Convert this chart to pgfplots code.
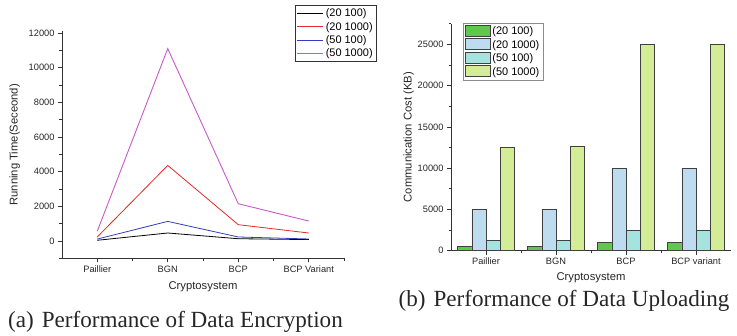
\documentclass[border=0pt]{standalone}
\usepackage{pgfplots}
\pgfplotsset{compat=1.18}
\usepackage{fontspec}
\setmainfont{Liberation Sans}
\newfontfamily\capfont{Liberation Serif}
\definecolor{cA}{RGB}{93,200,75}
\definecolor{cB}{RGB}{190,220,240}
\definecolor{cC}{RGB}{165,228,222}
\definecolor{cD}{RGB}{210,237,150}
\definecolor{lR}{RGB}{230,40,40}
\definecolor{lB}{RGB}{50,60,190}
\definecolor{lM}{RGB}{200,90,200}
\begin{document}
\begin{tikzpicture}
\path[use as bounding box] (0,0) rectangle (737bp,336bp);
\pgfplotsset{
  every axis/.append style={
    scale only axis,
    axis x line=bottom, axis y line=left,
    axis line style={-, line width=0.7bp, black!80},
    tick align=outside,
    major tick length=4bp, minor tick length=2.5bp,
    every tick/.style={black!80, line width=0.6bp},
    tick label style={font=\fontsize{9.3}{10}\selectfont, text=black!85},
    label style={font=\fontsize{11.3}{13}\selectfont, text=black!85},
    /pgf/number format/assume math mode=true,
    /pgf/number format/1000 sep={},
    scaled y ticks=false,
  }
}
% (a)
\begin{axis}[
  at={(62bp,77.7bp)}, anchor=south west,
  width=282bp, height=227bp,
  xmin=-0.5, xmax=3.5, ymin=-1000, ymax=12100,
  xtick={0,1,2,3}, xticklabels={Paillier,BGN,BCP,BCP Variant},
  minor xtick={0.5,1.5,2.5,3.5},
  ytick={0,2000,4000,6000,8000,10000,12000},
  minor ytick={-1000,1000,3000,5000,7000,9000,11000},
  xlabel={Cryptosystem}, ylabel={Running Time(Seceond)},
  xlabel style={yshift=-2bp},
  ylabel style={yshift=2bp},
  legend style={at={(0.826,1.117)}, anchor=north west, draw=black!80, line width=0.9bp,
    font=\fontsize{11}{12}\selectfont, inner sep=1.5bp, row sep=0bp},
  legend cell align=left,
  legend image code/.code={\draw[#1] (0bp,0bp) -- (26bp,0bp);},
]
\addplot[black, line width=0.8bp] coordinates {(0,40) (1,460) (2,130) (3,80)};
\addlegendentry{(20 100)}
\addplot[lR, line width=0.8bp] coordinates {(0,230) (1,4360) (2,940) (3,460)};
\addlegendentry{(20 1000)}
\addplot[lB, line width=0.8bp] coordinates {(0,110) (1,1130) (2,230) (3,115)};
\addlegendentry{(50 100)}
\addplot[lM, line width=0.9bp] coordinates {(0,560) (1,11100) (2,2150) (3,1150)};
\addlegendentry{(50 1000)}
\end{axis}
% (b)
\begin{axis}[
  at={(451bp,85.3bp)}, anchor=south west,
  width=280bp, height=227bp,
  xmin=-0.5, xmax=3.5, ymin=0, ymax=27500,
  xtick={0,1,2,3}, xticklabels={Paillier,BGN,BCP,BCP variant},
  minor xtick={0.5,1.5,2.5},
  ytick={0,5000,10000,15000,20000,25000},
  minor ytick={2500,7500,12500,17500,22500,27500},
  xlabel={Cryptosystem}, ylabel={Communication Cost (KB)},
  xlabel style={yshift=-1bp},
  ylabel style={yshift=-3bp},
  ybar=0pt, bar width=14.2bp,
  legend style={at={(0.043,1.003)}, anchor=north west, draw=black!45, line width=0.6bp,
    font=\fontsize{11}{12}\selectfont, inner sep=1.5bp, row sep=0bp},
  legend cell align=left,
  legend image code/.code={\draw[#1] (0bp,-4.5bp) rectangle (25bp,6.5bp);},
]
\addplot[fill=cA, draw=black!75, line width=0.6bp] coordinates {(0,480) (1,500) (2,1000) (3,1000)};
\addlegendentry{(20 100)}
\addplot[fill=cB, draw=black!75, line width=0.6bp] coordinates {(0,5000) (1,5000) (2,10000) (3,10000)};
\addlegendentry{(20 1000)}
\addplot[fill=cC, draw=black!75, line width=0.6bp] coordinates {(0,1250) (1,1250) (2,2500) (3,2500)};
\addlegendentry{(50 100)}
\addplot[fill=cD, draw=black!75, line width=0.6bp] coordinates {(0,12500) (1,12700) (2,25000) (3,25000)};
\addlegendentry{(50 1000)}
\end{axis}
\node[anchor=base, font=\capfont\fontsize{23.2}{26}\selectfont, text=black!85] at (175.5bp,9bp) {(a)\hspace{8bp}Performance of Data Encryption};
\node[anchor=base, font=\capfont\fontsize{23.2}{26}\selectfont, text=black!85] at (564bp,29.3bp) {(b)\hspace{8bp}Performance of Data Uploading};
\end{tikzpicture}
\end{document}
